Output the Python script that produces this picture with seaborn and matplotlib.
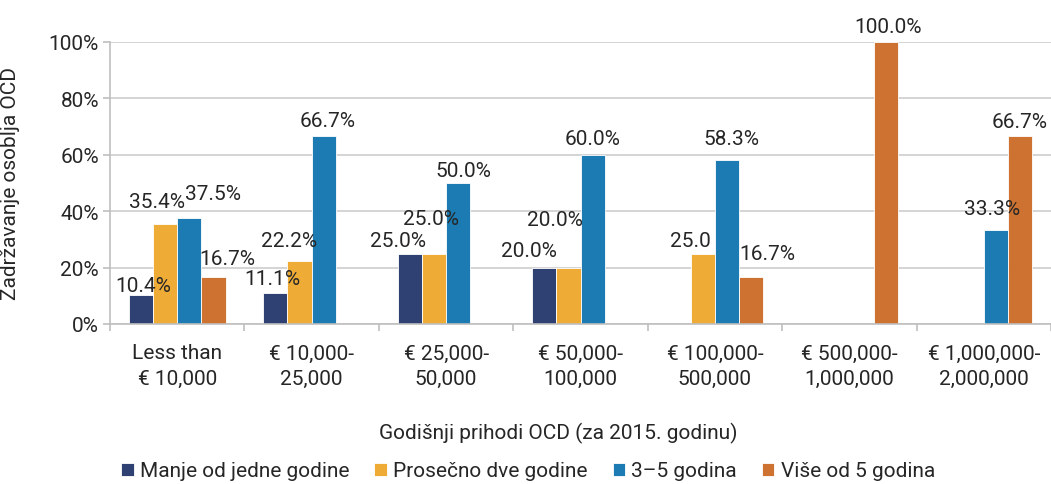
import matplotlib
matplotlib.use("Agg")
import matplotlib.pyplot as plt
import seaborn as sns
import pandas as pd
import numpy as np

categories = ["Less than\n€ 10,000", "€ 10,000-\n25,000", "€ 25,000-\n50,000",
              "€ 50,000-\n100,000", "€ 100,000-\n500,000", "€ 500,000-\n1,000,000",
              "€ 1,000,000-\n2,000,000"]
series = ["Manje od jedne godine", "Prosečno dve godine", "3\u20135 godina", "Više od 5 godina"]
manje = [10.4, 11.1, 25.0, 20.0, np.nan, np.nan, np.nan]
prosecno = [35.4, 22.2, 25.0, 20.0, 25.0, np.nan, np.nan]
tri_pet = [37.5, 66.7, 50.0, 60.0, 58.3, np.nan, 33.3]
vise = [16.7, np.nan, np.nan, np.nan, 16.7, 100.0, 66.7]
labels_manje = ["10.4%", "11.1%", "25.0%", "20.0%", "", "", ""]
labels_prosecno = ["35.4%", "22.2%", "25.0%", "20.0%", "25.0", "", ""]
labels_tri_pet = ["37.5%", "66.7%", "50.0%", "60.0%", "58.3%", "", "33.3%"]
labels_vise = ["16.7%", "", "", "", "16.7%", "100.0%", "66.7%"]
colors = ["#2f4073", "#eeab36", "#1b7bb2", "#cd7230"]
yticks = [0, 20, 40, 60, 80, 100]
ytick_labels = ["0%", "20%", "40%", "60%", "80%", "100%"]
xlabel = "Godišnji prihodi OCD (za 2015. godinu)"
ylabel = "Zadržavanje osoblja OCD"

# label placement (pixel offsets from bar top centre), as in the original chart
label_dx = [[2, -3, -12, -15, 0, 0, 0],
            [-8, -10, -3, -13, -12, 0, 0],
            [24, 4, 5, 0, 4, 0, -4],
            [14, 0, 0, 0, 16, 2, 0]]
label_gap = [[4, 9, 7, 12, 0, 0, 0],
             [17, 15, 29, 43, 7, 0, 0],
             [19, 10, 7, 11, 16, 0, 16],
             [13, 0, 0, 0, 18, 10, 9]]

all_values = [manje, prosecno, tri_pet, vise]
all_labels = [labels_manje, labels_prosecno, labels_tri_pet, labels_vise]

rows = []
for s, vals in zip(series, all_values):
    for c, v in zip(categories, vals):
        rows.append({"cat": c, "series": s, "value": v})
df = pd.DataFrame(rows)

sns.set_theme(style="white")
plt.rcParams["font.family"] = ["Roboto", "DejaVu Sans"]
text_color = "#262626"

fig = plt.figure(figsize=(10.51, 4.85), dpi=100)
ax = fig.add_axes([110 / 1051, 1 - 325 / 485, 941 / 1051, (325 - 43) / 485])

sns.barplot(data=df, x="cat", y="value", hue="series", order=categories,
            hue_order=series, palette=colors, width=0.72, errorbar=None,
            edgecolor="white", linewidth=0.6, saturation=1, ax=ax, legend=True)

for si, (cont, labs) in enumerate(zip(ax.containers, all_labels)):
    for bar in cont:
        h = bar.get_height()
        if np.isnan(h):
            continue
        idx = int(round(bar.get_x() + bar.get_width() / 2))
        ax.annotate(labs[idx], (bar.get_x() + bar.get_width() / 2, h),
                    xytext=(label_dx[si][idx], label_gap[si][idx]),
                    textcoords="offset pixels",
                    ha="center", va="baseline", fontsize=15, color=text_color)

ax.set_ylim(0, 100)
ax.set_xlim(-0.5, len(categories) - 0.5)
ax.set_yticks(yticks)
ax.set_yticklabels(ytick_labels)
ax.yaxis.grid(True, color="#d4d4d4", linewidth=1.4)
ax.set_axisbelow(True)
for side in ["top", "right"]:
    ax.spines[side].set_visible(False)
for side in ["left", "bottom"]:
    ax.spines[side].set_color("#bfbfbf")
    ax.spines[side].set_linewidth(1.2)

ax.set_xticks(range(len(categories)))
ax.set_xticklabels(categories, linespacing=1.45)
ax.set_xticks(np.arange(-0.5, len(categories), 1.0), minor=True)
ax.tick_params(axis="x", which="major", length=0, pad=14, labelsize=15, labelcolor=text_color)
ax.tick_params(axis="x", which="minor", length=5, color="#bfbfbf", width=1.2, bottom=True)
ax.tick_params(axis="y", which="major", length=5, color="#bfbfbf", width=1.2, left=True,
               labelsize=15, labelcolor=text_color, pad=3)

ax.set_xlabel(xlabel, fontsize=15, color=text_color)
ax.xaxis.set_label_coords((558 - 110) / 941, -(423 - 325) / 282)
ax.set_ylabel(ylabel, fontsize=15, color=text_color)
ax.yaxis.set_label_coords(-(110 - 20) / 941, 0.5)

leg = ax.get_legend()
handles, labs = ax.get_legend_handles_labels()
leg.remove()
fig.legend(handles, labs, loc="center", bbox_to_anchor=(528 / 1051, 1 - 472 / 485),
           ncol=4, frameon=False, fontsize=15, handlelength=0.6, handleheight=0.6,
           handletextpad=0.3, columnspacing=1.2, labelcolor=text_color)

fig.savefig("out.png", dpi=100)
